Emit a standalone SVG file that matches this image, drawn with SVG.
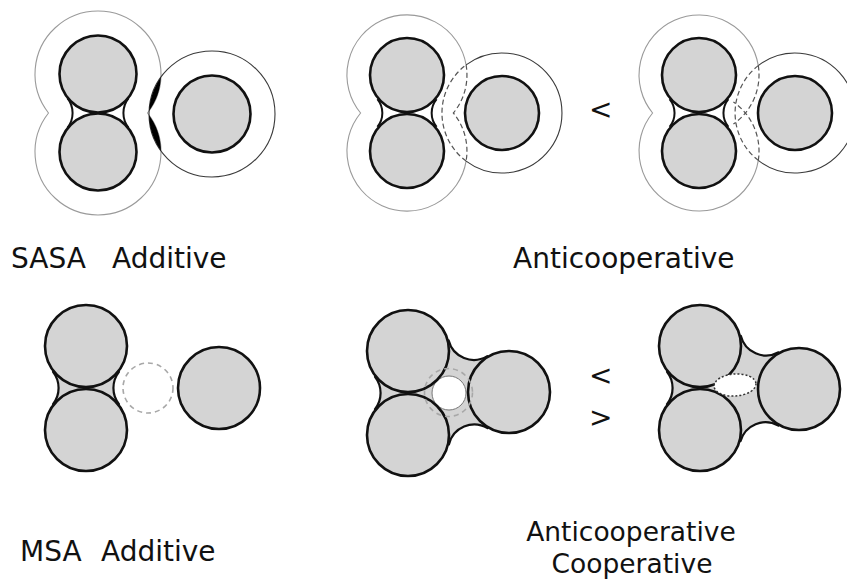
<svg xmlns="http://www.w3.org/2000/svg" width="847" height="581" viewBox="0 0 847 581">
  <style>
    .atom{fill:#d4d4d4;stroke:#111;stroke-width:2.6}
    .neck{fill:none;stroke:#111;stroke-width:2}
    .fillet{fill:#d4d4d4;stroke:#111;stroke-width:2.2;stroke-linejoin:round}
    .env{fill:none;stroke:#9a9a9a;stroke-width:1.1}
    .env2{fill:none;stroke:#3a3a3a;stroke-width:1.1}
    .hid{fill:none;stroke:#555;stroke-width:1.2;stroke-dasharray:5 3}
    .probe{fill:none;stroke:#a8a8a8;stroke-width:1.6;stroke-dasharray:5 4}
    .lbl{font-family:"DejaVu Sans","Liberation Sans",sans-serif;font-size:28px;fill:#111}
    .lbl2{font-family:"DejaVu Sans","Liberation Sans",sans-serif;font-size:26.5px;fill:#111;text-anchor:middle}
    .op{font-family:"DejaVu Sans","Liberation Sans",sans-serif;font-size:28px;fill:#111}
  </style>
  <defs>
    <!-- solvent-accessible envelope of the two-atom pair, used to mark the overlap -->
    <clipPath id="pairEnv1">
      <circle cx="98" cy="74" r="63"/>
      <circle cx="98" cy="152" r="63"/>
    </clipPath>
  </defs>

  <!-- SASA, additive: the third atom only touches the pair's envelope -->
  <g id="sasa-additive">
    <path class="env" d="M48.5 113A63 63 0 1 1 147.5 113A63 63 0 1 1 48.5 113Z"/>
    <circle class="env2" cx="212" cy="114" r="63"/>
    <circle cx="212" cy="114" r="63" fill="#000" clip-path="url(#pairEnv1)"/>
    <path class="neck" d="M67.4 98.1A24 24 0 0 1 67.4 127.9M128.6 127.9A24 24 0 0 1 128.6 98.1"/>
    <circle class="atom" cx="98" cy="74" r="38.5"/>
    <circle class="atom" cx="98" cy="152" r="38.5"/>
    <circle class="atom" cx="212" cy="114" r="38.5"/>
  </g>

  <!-- SASA, anticooperative: envelopes overlap (hidden parts dashed) -->
  <g id="sasa-anticoop-a">
    <path class="env" d="M466.1 64.9A60 60 0 1 0 360.6 113A60 60 0 1 0 466.1 161.1"/>
    <path class="hid" d="M466.1 64.9A60 60 0 0 1 453.4 113A60 60 0 0 1 466.1 161.1"/>
    <path class="env2" d="M466.1 64.9A60 60 0 1 1 466.1 161.1"/>
    <path class="hid" d="M466.1 161.1A60 60 0 0 1 466.1 64.9"/>
    <path class="neck" d="M377.4 99.1A22 22 0 0 1 377.4 126.9M436.6 126.9A22 22 0 0 1 436.6 99.1"/>
    <circle class="atom" cx="407" cy="75" r="37"/>
    <circle class="atom" cx="407" cy="151" r="37"/>
    <circle class="atom" cx="502" cy="113" r="37"/>
  </g>

  <text class="op" x="589" y="119">&lt;</text>

  <g id="sasa-anticoop-b">
    <path class="env" d="M758.3 65.6A60 60 0 1 0 652.6 113A60 60 0 1 0 758.3 160.4"/>
    <path class="hid" d="M758.3 65.6A60 60 0 0 1 733.4 124.1"/>
    <path class="hid" d="M758.3 160.4A60 60 0 0 0 733.4 101.9"/>
    <path class="env2" d="M758.3 65.6A60 60 0 1 1 758.3 160.4"/>
    <path class="hid" d="M758.3 160.4A60 60 0 0 1 758.3 65.6"/>
    <path class="neck" d="M669.6 99.1A22 22 0 0 1 669.6 126.9M728.4 126.9A22 22 0 0 1 728.4 99.1"/>
    <circle class="atom" cx="699" cy="75" r="37"/>
    <circle class="atom" cx="699" cy="151" r="37"/>
    <circle class="atom" cx="795" cy="113" r="37"/>
  </g>

  <!-- MSA, additive: probe fits between pair and third atom -->
  <g id="msa-additive">
    <path class="fillet" d="M86 346L53 371.9A26 26 0 0 1 53 404.1L86 430L119 404.1A26 26 0 0 1 119 371.9Z"/>
    <circle class="atom" cx="86" cy="346" r="41"/>
    <circle class="atom" cx="86" cy="430" r="41"/>
    <circle class="atom" cx="219" cy="388" r="41"/>
    <circle class="probe" cx="148" cy="388" r="25"/>
  </g>

  <!-- MSA, three atoms enclosing a small cavity -->
  <g id="msa-cavity">
    <path class="fillet" d="M408 351L375 376.9A26 26 0 0 1 375 409.1L408 435L448.9 444.5A26 26 0 0 1 487.5 428.1L509 392L487.3 356.1A26 26 0 0 1 448.6 340.4Z"/>
    <circle cx="449" cy="393" r="17" fill="#fff" stroke="#777" stroke-width="1"/>
    <circle class="atom" cx="408" cy="351" r="41"/>
    <circle class="atom" cx="408" cy="435" r="41"/>
    <circle class="atom" cx="509" cy="392" r="41"/>
    <circle class="probe" cx="448.5" cy="392.5" r="24"/>
  </g>

  <text class="op" x="589" y="385">&lt;</text>
  <text class="op" x="589" y="427">&gt;</text>

  <!-- MSA, three atoms with the cavity closed -->
  <g id="msa-closed">
    <path class="fillet" d="M700 346L667 371.9A26 26 0 0 1 667 404.1L700 430L740.5 441.2A26 26 0 0 1 778.3 425.6L799 389L778.6 352.3A26 26 0 0 1 740.8 335.8Z"/>
    <circle class="atom" cx="700" cy="346" r="41"/>
    <circle class="atom" cx="700" cy="430" r="41"/>
    <circle class="atom" cx="799" cy="389" r="41"/>
    <ellipse cx="735" cy="385" rx="21" ry="11" transform="rotate(-4 735 385)" fill="#fff" stroke="#333" stroke-width="1.5" stroke-dasharray="2 2"/>
  </g>

  <g id="labels">
    <text class="lbl" x="11" y="268">SASA</text>
    <text class="lbl" x="112" y="268">Additive</text>
    <text class="lbl" x="513" y="268">Anticooperative</text>
    <text class="lbl" x="20" y="561">MSA</text>
    <text class="lbl" x="101" y="561">Additive</text>
    <text class="lbl2" x="631" y="541">Anticooperative</text>
    <text class="lbl2" x="632" y="573">Cooperative</text>
  </g>
</svg>
